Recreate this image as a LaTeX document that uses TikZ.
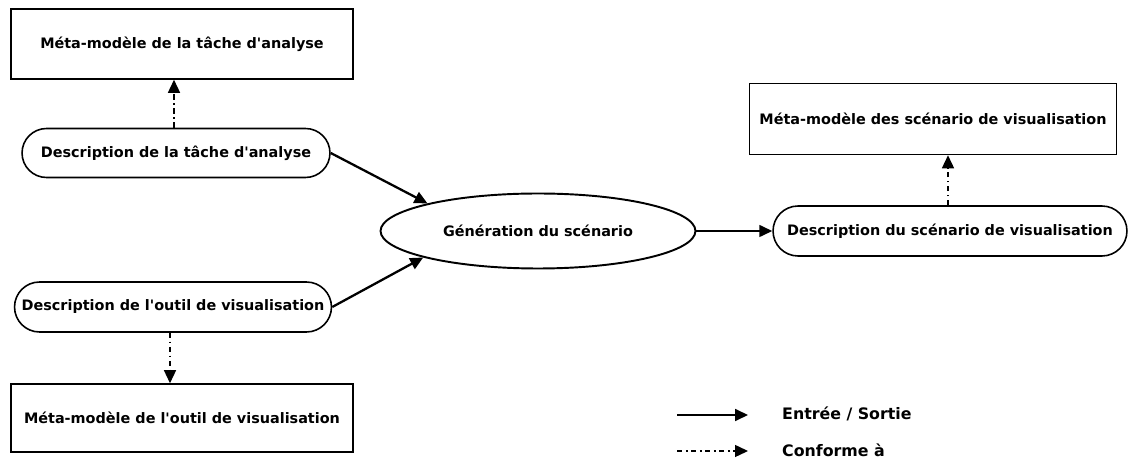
\documentclass[tikz,border=0pt]{standalone}
\usepackage{fontspec}
\setmainfont{DejaVu Sans}[Ligatures=TeXOff]
\usetikzlibrary{arrows.meta,shapes.misc,shapes.geometric}
\tikzset{
  metabox/.style={draw, line width=0.9pt, minimum width=#1, minimum height=1.4cm, inner sep=0pt},
  descbox/.style={draw, rounded rectangle, line width=0.9pt, minimum width=#1, minimum height=1cm, inner sep=0pt},
  flow/.style={line width=1.3pt, -{Triangle[length=0.26cm,width=0.24cm]}},
  conform/.style={line width=0.8pt, dash pattern=on 3pt off 2pt on 1pt off 2pt, -{Triangle[length=0.26cm,width=0.24cm]}}
}
\begin{document}
\begin{tikzpicture}[x=0.02cm, y=-0.02cm, font=\fontsize{8.2}{10}\selectfont\bfseries]
          \useasboundingbox (0,0) rectangle (1129,465);
          % --- meta-models -----------------------------------------------
          \node[metabox=6.84cm] (metatache) at (182,44) {Méta-modèle de la tâche d'analyse};
          \node[metabox=6.84cm, minimum height=1.36cm] (metaoutil) at (182,418) {Méta-modèle de l'outil de visualisation};
          \node[metabox=7.34cm, minimum height=1.42cm] (metascen) at (933,119) {Méta-modèle des scénario de visualisation};
          % --- descriptions ----------------------------------------------
          \node[descbox=6.16cm, minimum height=0.98cm] (desctache) at (176,153) {Description de la tâche d'analyse};
          \node[descbox=6.34cm] (descoutil) at (173,307) {Description de l'outil de visualisation};
          \node[descbox=7.08cm] (descscen) at (950,231) {Description du scénario de visualisation};
          % --- generation ------------------------------------------------
          \node[draw, ellipse, line width=1.1pt, minimum width=6.3cm, minimum height=1.5cm, inner sep=0pt]
            (gen) at (538,231) {Génération du scénario};
          % --- input / output --------------------------------------------
          \draw[flow] (desctache.east) -- (gen.166);
          \draw[flow] (descoutil.east) -- (gen.193);
          \draw[line width=0.9pt, -{Triangle[length=0.26cm,width=0.24cm]}] (gen.east) -- (descscen.west);
          % --- conforms to -----------------------------------------------
          \draw[conform] (desctache.north -| metatache.south) ++(-8,0) coordinate (c1) -- (c1 |- metatache.south);
          \draw[conform] (descoutil.south) ++(-3,0) coordinate (c2) -- (c2 |- metaoutil.north);
          \draw[conform] (descscen.north) ++(-2,0) coordinate (c3) -- (c3 |- metascen.south);
          % --- legend ----------------------------------------------------
          \coordinate (leg1a) at (677,415);
          \coordinate (leg1b) at (748,415);
          \coordinate (leg2a) at (677,451);
          \coordinate (leg2b) at (748,451);
          \draw[line width=1pt, -{Triangle[length=0.26cm,width=0.24cm]}] (leg1a) -- (leg1b);
          \draw[conform] (leg2a) -- (leg2b);
          \node[anchor=west, font=\fontsize{9}{11}\selectfont\bfseries] (legio) at (776,414) {Entrée / Sortie};
          \node[anchor=west, font=\fontsize{9}{11}\selectfont\bfseries] (legconf) at (776,450) {Conforme à};
\end{tikzpicture}
\end{document}
